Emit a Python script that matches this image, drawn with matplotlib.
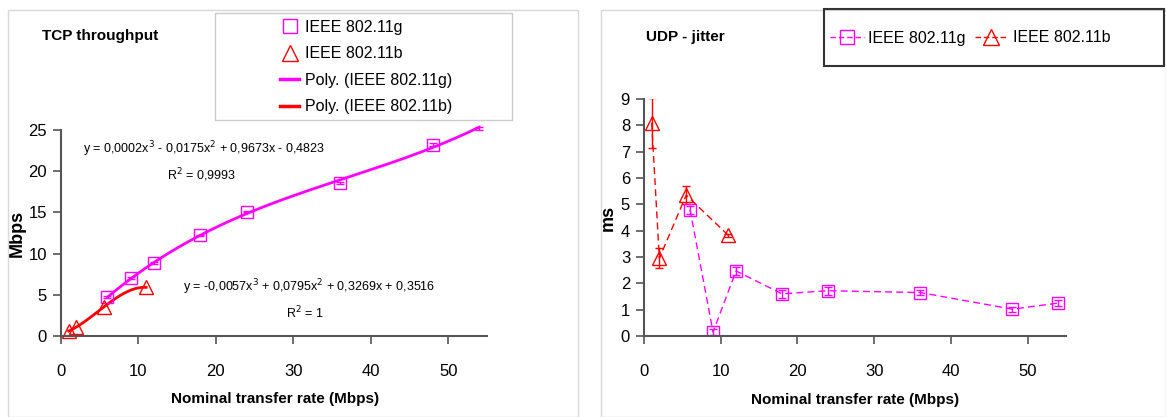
import matplotlib
matplotlib.use("Agg")
import matplotlib.pyplot as plt
import numpy as np
from matplotlib.lines import Line2D
from matplotlib.patches import Rectangle

plt.rcParams["font.family"] = ["Liberation Sans", "DejaVu Sans"]

MAGENTA = "#ff00ff"
RED = "#ff0000"
AXIS = "#555555"

# data
rate_g = [6, 9, 12, 18, 24, 36, 48, 54]
rate_b = [1, 2, 5.5, 11]

tcp_g = [4.7, 7.0, 8.85, 12.2, 15.1, 18.6, 23.2, 25.2]
tcp_g_err = [0.1, 0.1, 0.1, 0.1, 0.1, 0.15, 0.2, 0.2]
tcp_b = [0.6, 1.1, 3.5, 5.9]

jit_g = [4.8, 0.15, 2.47, 1.6, 1.72, 1.65, 1.02, 1.25]
jit_g_err = [0.15, 0.1, 0.15, 0.15, 0.15, 0.1, 0.1, 0.1]
jit_b = [8.1, 2.95, 5.35, 3.82]
jit_b_err = [0.95, 0.38, 0.35, 0.05]

eq_g = "y = 0,0002x$^3$ - 0,0175x$^2$ + 0,9673x - 0,4823"
r2_g = "R$^2$ = 0,9993"
eq_b = "y = -0,0057x$^3$ + 0,0795x$^2$ + 0,3269x + 0,3516"
r2_b = "R$^2$ = 1"

W, H = 1166, 417
fig = plt.figure(figsize=(W / 100, H / 100), dpi=100)


def fx(px):
    return px / W


def fy(py):
    return 1 - py / H


def style_axes(ax, yticks):
    for s in ("top", "right"):
        ax.spines[s].set_visible(False)
    for s in ("left", "bottom"):
        ax.spines[s].set_color(AXIS)
        ax.spines[s].set_linewidth(1.5)
    ax.set_xlim(0, 55)
    ax.set_xticks([0, 10, 20, 30, 40, 50])
    ax.set_yticks(yticks)
    ax.tick_params(direction="out", length=6, width=1.2, color=AXIS, labelsize=12)
    ax.tick_params(axis="x", pad=14)
    ax.tick_params(axis="y", pad=4)
    ax.set_xlabel("Nominal transfer rate (Mbps)", fontsize=11, fontweight="bold",
                  va="top")


# panel frames
fig.add_artist(Rectangle((fx(8), 0), fx(570), fy(10), transform=fig.transFigure,
                         fill=False, edgecolor="#d8d8d8", lw=1))
fig.add_artist(Rectangle((fx(601), 0), fx(565), fy(10), transform=fig.transFigure,
                         fill=False, edgecolor="#d8d8d8", lw=1))

# ---- TCP throughput ----
ax1 = fig.add_axes([fx(61), fy(336), fx(487 - 61), fy(130) - fy(336)])
style_axes(ax1, [0, 5, 10, 15, 20, 25])
ax1.set_ylim(0, 25)
ax1.set_ylabel("Mbps", fontsize=13, fontweight="bold", va="center")
ax1.yaxis.set_label_coords(-0.103, 0.5)
ax1.xaxis.set_label_coords(0.502, -0.272)

cg = np.polyfit(rate_g, tcp_g, 3)
xs_g = np.linspace(rate_g[0], rate_g[-1], 200)
ax1.plot(xs_g, np.polyval(cg, xs_g), color=MAGENTA, lw=2, clip_on=False)
cb = np.polyfit(rate_b, tcp_b, 3)
xs_b = np.linspace(rate_b[0], rate_b[-1], 100)
ax1.plot(xs_b, np.polyval(cb, xs_b), color=RED, lw=2)

# markers only for points inside the axis range (Excel hides the rest)
inside = [i for i, v in enumerate(tcp_g) if v <= 25]
ax1.errorbar(rate_g, tcp_g, yerr=tcp_g_err, fmt="none", ecolor=MAGENTA,
             elinewidth=1, capsize=3, clip_on=False)
ax1.plot(rate_g, tcp_g, "s", ms=8, mfc="none", mec=MAGENTA, mew=1,
         markevery=inside)
ax1.plot(rate_b, tcp_b, "^", ms=10, mfc="none", mec=RED, mew=1, clip_on=False)

ax1.text(0.052, 0.908, eq_g, transform=ax1.transAxes, fontsize=9, va="center")
ax1.text(0.249, 0.782, r2_g, transform=ax1.transAxes, fontsize=9, va="center")
ax1.text(0.286, 0.238, eq_b, transform=ax1.transAxes, fontsize=9, va="center")
ax1.text(0.528, 0.112, r2_b, transform=ax1.transAxes, fontsize=9, va="center")

fig.text(fx(42), fy(36), "TCP throughput", fontsize=11, fontweight="bold",
         va="center")

fig.add_artist(Rectangle((fx(215), fy(120)), fx(512 - 215), fy(13) - fy(120),
                         transform=fig.transFigure, fill=False,
                         edgecolor="#cccccc", lw=1))
h1 = [Line2D([], [], ls="none", marker="s", ms=10, mfc="none", mec=MAGENTA),
      Line2D([], [], ls="none", marker="^", ms=11, mfc="none", mec=RED),
      Line2D([], [], color=MAGENTA, lw=2.5),
      Line2D([], [], color=RED, lw=2.5)]
l1 = ["IEEE 802.11g", "IEEE 802.11b", "Poly. (IEEE 802.11g)", "Poly. (IEEE 802.11b)"]
fig.legend(h1, l1, loc="center left", bbox_to_anchor=(fx(280), fy(67)),
           frameon=False, fontsize=11.5, handlelength=1.2, handletextpad=0.35,
           labelspacing=0.72, borderaxespad=0, borderpad=0)

# ---- UDP jitter ----
ax2 = fig.add_axes([fx(644), fy(336), fx(1066 - 644), fy(99) - fy(336)])
style_axes(ax2, list(range(10)))
ax2.set_ylim(0, 9)
ax2.set_ylabel("ms", fontsize=13, fontweight="bold", va="center")
ax2.yaxis.set_label_coords(-0.085, 0.5)
ax2.xaxis.set_label_coords(0.5, -0.24)

ax2.errorbar(rate_g, jit_g, yerr=jit_g_err, fmt="s--", ms=8, mfc="none",
             mec=MAGENTA, mew=1, color=MAGENTA, lw=1, elinewidth=1, capsize=3,
             dashes=(5, 3))
ax2.errorbar(rate_b, jit_b, yerr=jit_b_err, fmt="^--", ms=10, mfc="none",
             mec=RED, mew=1, color=RED, lw=1, elinewidth=1, capsize=3,
             dashes=(5, 3))

fig.text(fx(646), fy(37), "UDP - jitter", fontsize=11, fontweight="bold",
         va="center")

fig.add_artist(Rectangle((fx(824), fy(66)), fx(1164 - 824), fy(9) - fy(66),
                         transform=fig.transFigure, fill=False,
                         edgecolor="#333333", lw=1.5))
h2 = [Line2D([], [], color=MAGENTA, lw=1, ls="--", dashes=(4, 2), marker="s",
             ms=10, mfc="none", mec=MAGENTA),
      Line2D([], [], color=RED, lw=1, ls="--", dashes=(4, 2), marker="^",
             ms=11, mfc="none", mec=RED)]
fig.legend(h2, ["IEEE 802.11g", "IEEE 802.11b"], loc="center left",
           bbox_to_anchor=(fx(830), fy(38)), ncol=2, frameon=False,
           fontsize=11.5, handlelength=2.1, handletextpad=0.3, columnspacing=0.55,
           borderaxespad=0, borderpad=0)

fig.savefig("out.png", dpi=100, facecolor="white")
